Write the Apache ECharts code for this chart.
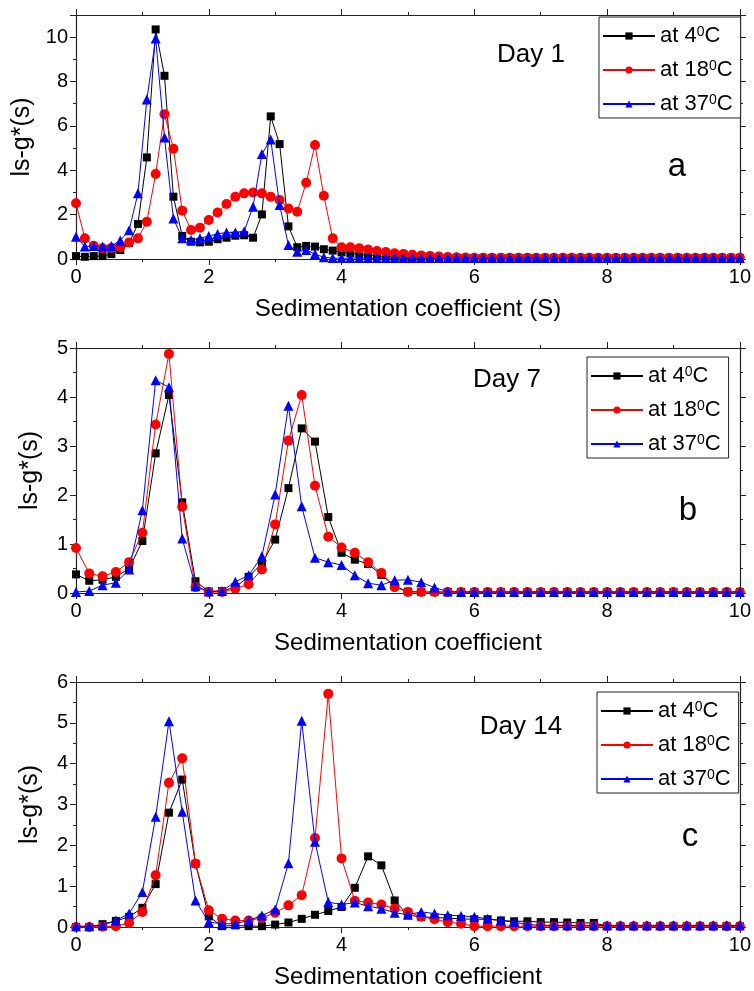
<!DOCTYPE html>
<html>
<head>
<meta charset="utf-8">
<script src="https://cdn.jsdelivr.net/npm/echarts@6/dist/echarts.min.js"></script>
<style>
  html, body { margin: 0; padding: 0; background: #fff; }
  #chart { width: 754px; height: 991px; }
</style>
</head>
<body>
<div id="chart"></div>
<script>
// Sedimentation coefficient sample positions (S)
const sDay1 = [0,0.133,0.267,0.4,0.533,0.667,0.8,0.933,1.067,1.2,1.333,1.467,1.6,1.733,1.867,
  2,2.133,2.267,2.4,2.533,2.667,2.8,2.933,3.067,3.2,3.333,3.467,3.6,3.733,3.867,
  4,4.133,4.267,4.4,4.533,4.667,4.8,4.933,5.067,5.2,5.333,5.467,5.6,5.733,5.867,
  6,6.133,6.267,6.4,6.533,6.667,6.8,6.933,7.067,7.2,7.333,7.467,7.6,7.733,7.867,
  8,8.133,8.267,8.4,8.533,8.667,8.8,8.933,9.067,9.2,9.333,9.467,9.6,9.733,9.867,10];
const sDay7_14 = [0,0.2,0.4,0.6,0.8,1,1.2,1.4,1.6,1.8,2,2.2,2.4,2.6,2.8,3,3.2,3.4,3.6,3.8,
  4,4.2,4.4,4.6,4.8,5,5.2,5.4,5.6,5.8,6,6.2,6.4,6.6,6.8,7,7.2,7.4,7.6,7.8,
  8,8.2,8.4,8.6,8.8,9,9.2,9.4,9.6,9.8,10];

// ls-g*(s), Day 1
const day1_4C = [0.13,0.1,0.13,0.13,0.22,0.4,0.72,1.58,4.58,10.35,8.26,2.81,1.04,0.78,0.75,
  0.78,0.89,0.96,1.05,1.07,0.96,2.01,6.43,5.18,1.47,0.53,0.59,0.56,0.44,0.38,
  0.3,0.26,0.21,0.17,0.14,0.11,0.09,0.07,0.05,0.05,0.05,0.05,0.05,0.05,0.05,
  0.05,0.05,0.05,0.05,0.05,0.05,0.05,0.05,0.05,0.05,0.05,0.05,0.05,0.05,0.05,
  0.05,0.05,0.05,0.05,0.05,0.05,0.05,0.05,0.05,0.05,0.05,0.05,0.05,0.05,0.05,0.05];
const day1_18C = [2.51,0.93,0.6,0.48,0.5,0.53,0.74,0.93,1.68,3.83,6.53,4.97,2.18,1.31,1.41,
  1.76,2.1,2.48,2.81,2.96,3.0,2.96,2.81,2.66,2.28,2.13,3.44,5.14,2.85,0.93,
  0.53,0.53,0.48,0.43,0.36,0.31,0.26,0.23,0.19,0.16,0.14,0.11,0.09,0.08,0.07,
  0.06,0.06,0.06,0.06,0.06,0.06,0.06,0.06,0.06,0.06,0.06,0.06,0.06,0.06,0.06,
  0.06,0.06,0.06,0.06,0.06,0.06,0.06,0.06,0.06,0.06,0.06,0.06,0.06,0.06,0.06,0.06];
const day1_37C = [1.0,0.56,0.59,0.56,0.59,0.83,1.3,2.96,7.19,9.94,5.48,1.83,0.93,0.86,0.93,
  1.04,1.13,1.2,1.2,1.25,2.36,4.73,5.39,2.43,0.63,0.33,0.41,0.22,0.08,0.04,
  0.04,0.04,0.04,0.04,0.04,0.04,0.04,0.04,0.04,0.04,0.04,0.04,0.04,0.04,0.04,
  0.04,0.04,0.04,0.04,0.04,0.04,0.04,0.04,0.04,0.04,0.04,0.04,0.04,0.04,0.04,
  0.04,0.04,0.04,0.04,0.04,0.04,0.04,0.04,0.04,0.04,0.04,0.04,0.04,0.04,0.04,0.04];

// ls-g*(s), Day 7
const day7_4C = [0.38,0.25,0.27,0.33,0.5,1.06,2.85,4.04,1.85,0.24,0.03,0.04,0.12,0.33,0.6,
  1.09,2.14,3.36,3.09,1.55,0.82,0.68,0.59,0.37,0.14,0.03,0.02,0.02,0.02,0.02,
  0.02,0.02,0.02,0.02,0.02,0.02,0.02,0.02,0.02,0.02,0.02,0.02,0.02,0.02,0.02,
  0.02,0.02,0.02,0.02,0.02,0.02];
const day7_18C = [0.92,0.4,0.34,0.43,0.63,1.23,3.44,4.88,1.76,0.12,0.02,0.02,0.09,0.18,0.48,
  1.4,3.11,4.04,2.19,1.15,0.93,0.82,0.63,0.41,0.12,0.02,0.02,0.02,0.02,0.02,
  0.02,0.02,0.02,0.02,0.02,0.02,0.02,0.02,0.02,0.02,0.02,0.02,0.02,0.02,0.02,
  0.02,0.02,0.02,0.02,0.02,0.02];
const day7_37C = [0.02,0.04,0.16,0.21,0.48,1.69,4.34,4.2,1.11,0.14,0.03,0.04,0.23,0.36,0.75,
  2.01,3.82,1.77,0.72,0.63,0.57,0.36,0.2,0.16,0.26,0.27,0.22,0.11,0.03,0.02,
  0.02,0.02,0.02,0.02,0.02,0.02,0.02,0.02,0.02,0.02,0.02,0.02,0.02,0.02,0.02,
  0.02,0.02,0.02,0.02,0.02,0.02];

// ls-g*(s), Day 14
const day14_4C = [0,0,0.07,0.15,0.25,0.47,1.05,2.8,3.61,1.55,0.26,0.02,0.04,0.02,0.02,
  0.06,0.11,0.2,0.3,0.39,0.49,0.96,1.73,1.51,0.65,0.29,0.25,0.23,0.22,0.2,
  0.19,0.19,0.16,0.14,0.14,0.12,0.12,0.11,0.1,0.1,0.02,0.02,0.02,0.02,0.02,
  0.02,0.02,0.02,0.02,0.02,0.02];
const day14_18C = [0,0,0.01,0.02,0.1,0.37,1.27,3.53,4.13,1.55,0.41,0.2,0.16,0.16,0.22,
  0.35,0.53,0.78,2.18,5.71,1.68,0.64,0.6,0.55,0.45,0.37,0.25,0.19,0.12,0.08,
  0.02,0.02,0.02,0.02,0.02,0.02,0.02,0.02,0.02,0.02,0.02,0.02,0.02,0.02,0.02,
  0.02,0.02,0.02,0.02,0.02,0.02];
const day14_37C = [0.02,0.02,0.04,0.16,0.33,0.86,2.7,5.04,2.82,0.65,0.12,0.08,0.08,0.16,0.28,
  0.43,1.56,5.05,2.09,0.61,0.55,0.6,0.51,0.45,0.35,0.3,0.37,0.33,0.29,0.27,
  0.25,0.2,0.16,0.12,0.06,0.04,0.04,0.04,0.04,0.04,0.04,0.04,0.04,0.04,0.04,
  0.04,0.04,0.04,0.04,0.04,0.04];

const temps = ['4', '18', '37'];
const xTicks = [0, 2, 4, 6, 8, 10];
const xTitles = ['Sedimentation coefficient (S)', 'Sedimentation coefficient', 'Sedimentation coefficient'];
const yTitle = 'ls-g*(s)';
const dayLabels = ['Day 1', 'Day 7', 'Day 14'];
const panelLetters = ['a', 'b', 'c'];
const yMax = [11, 5, 6];
const yStep = [2, 1, 1];

const FONT = '"Liberation Sans", Arial, Helvetica, sans-serif';
const AXIS = '#222';
const styles = [
  { color: '#000000', symbol: 'rect', size: 8 },
  { color: '#ff0000', symbol: 'circle', size: 10 },
  { color: '#0000ff', symbol: 'triangle', size: 10 }
];

const panels = [
  { s: sDay1, ys: [day1_4C, day1_18C, day1_37C] },
  { s: sDay7_14, ys: [day7_4C, day7_18C, day7_37C] },
  { s: sDay7_14, ys: [day14_4C, day14_18C, day14_37C] }
];

const grids = [
  { left: 76, right: 12, top: 15, height: 244 },
  { left: 76, right: 11, top: 348, height: 245 },
  { left: 76, right: 12, top: 682, height: 245 }
];

const seriesName = t => 'at ' + t + '°C';

const xAxes = [], yAxes = [], series = [];
grids.forEach((g, k) => {
  const tickOut = { show: true, inside: false, length: 6, lineStyle: { color: AXIS, width: 1 } };
  const minorOut = { show: true, splitNumber: 2, length: 3, lineStyle: { color: AXIS, width: 1 } };
  xAxes.push({
    type: 'value', gridIndex: k, min: 0, max: 10, interval: 2, position: 'bottom',
    axisLine: { show: true, onZero: false, lineStyle: { color: AXIS, width: 1.2 } },
    axisTick: tickOut, minorTick: minorOut, splitLine: { show: false },
    axisLabel: { color: '#000', fontSize: 20, fontFamily: FONT, margin: 8,
      formatter: v => (xTicks.indexOf(v) >= 0 ? String(v) : '') },
    name: xTitles[k], nameLocation: 'middle', nameGap: 38,
    nameTextStyle: { color: '#000', fontSize: 24, fontFamily: FONT }
  });
  xAxes.push({
    type: 'value', gridIndex: k, min: 0, max: 10, interval: 2, position: 'top',
    axisLine: { show: true, onZero: false, lineStyle: { color: AXIS, width: 1.2 } },
    axisTick: tickOut, minorTick: minorOut, splitLine: { show: false },
    axisLabel: { show: false }
  });
  const step = yStep[k];
  yAxes.push({
    type: 'value', gridIndex: k, min: 0, max: yMax[k], interval: step, position: 'left',
    axisLine: { show: true, onZero: false, lineStyle: { color: AXIS, width: 1.2 } },
    axisTick: tickOut, minorTick: minorOut, splitLine: { show: false },
    axisLabel: { color: '#000', fontSize: 20, fontFamily: FONT, margin: 8,
      formatter: v => (v % step === 0 ? String(v) : '') },
    name: yTitle, nameLocation: 'middle', nameGap: 33, nameRotate: 90,
    nameTextStyle: { color: '#000', fontSize: 25, fontFamily: FONT }
  });
  yAxes.push({
    type: 'value', gridIndex: k, min: 0, max: yMax[k], interval: step, position: 'right',
    axisLine: { show: true, onZero: false, lineStyle: { color: AXIS, width: 1.2 } },
    axisTick: tickOut, minorTick: minorOut, splitLine: { show: false },
    axisLabel: { show: false }
  });

  const p = panels[k];
  p.ys.forEach((vals, j) => {
    const st = styles[j];
    series.push({
      type: 'line', name: seriesName(temps[j]),
      xAxisIndex: 2 * k, yAxisIndex: 2 * k,
      data: p.s.map((x, i) => [x, vals[i]]),
      symbol: st.symbol, symbolSize: st.size, showAllSymbol: true,
      lineStyle: { color: st.color, width: 1 },
      itemStyle: { color: st.color },
      animation: false, z: 2 + j
    });
  });
});

const legendPos = [
  { left: 599, top: 17 },
  { left: 587, top: 357 },
  { left: 597, top: 692 }
];
const legends = legendPos.map(pos => ({
  left: pos.left, top: pos.top, orient: 'vertical',
  data: temps.map(seriesName),
  backgroundColor: '#fff', borderColor: '#222', borderWidth: 1, borderRadius: 0,
  padding: [8, 8, 3, 3], itemGap: 12, itemWidth: 52, itemHeight: 9,
  selectedMode: false,
  formatter: n => n.replace('°', '{sup|0}'),
  textStyle: { color: '#000', fontSize: 22, fontFamily: FONT, lineHeight: 22,
    rich: { sup: { fontSize: 14, lineHeight: 10, fontFamily: FONT, color: '#000', verticalAlign: 'top' } } }
}));

const dayPos = [[531, 55], [507, 380], [521, 727]];
const letterPos = [[677, 167], [688, 511], [690, 837]];
const graphic = [];
dayLabels.forEach((t, k) => {
  graphic.push({ type: 'text', x: dayPos[k][0], y: dayPos[k][1], z: 10,
    style: { text: t, fill: '#000', font: '26px ' + FONT, textAlign: 'center', textVerticalAlign: 'middle' } });
  graphic.push({ type: 'text', x: letterPos[k][0], y: letterPos[k][1], z: 10,
    style: { text: panelLetters[k], fill: '#000', font: '33px ' + FONT, textAlign: 'center', textVerticalAlign: 'middle' } });
});

const chart = echarts.init(document.getElementById('chart'), null, { renderer: 'canvas' });
chart.setOption({
  animation: false,
  backgroundColor: '#fff',
  grid: grids,
  xAxis: xAxes,
  yAxis: yAxes,
  legend: legends,
  graphic: graphic,
  series: series
});
</script>
</body>
</html>
